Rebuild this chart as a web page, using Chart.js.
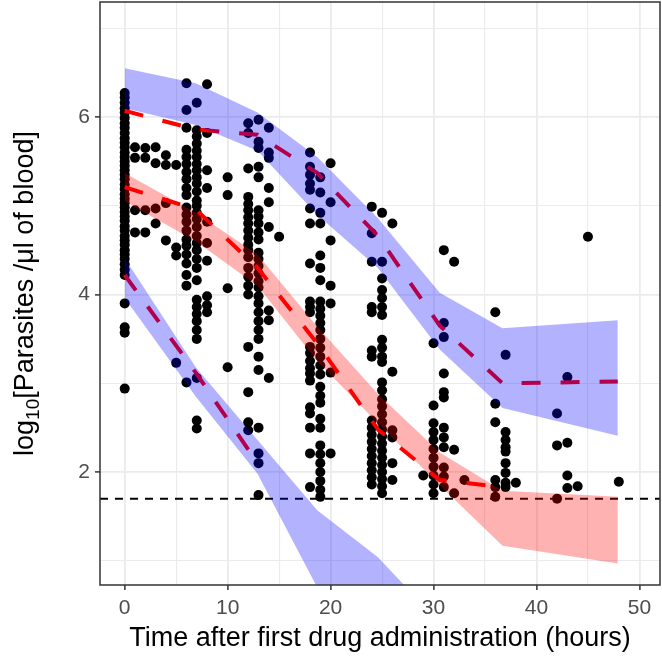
<!DOCTYPE html>
<html>
<head>
<meta charset="utf-8">
<title>VPC parasite clearance</title>
<script src="https://cdn.jsdelivr.net/npm/chart.js@4.4.1/dist/chart.umd.min.js"></script>
<style>
  html, body { margin: 0; padding: 0; background: #fff; overflow: hidden; }
  #wrap { width: 662px; height: 663px; position: relative; }
</style>
</head>
<body>
<div id="wrap"><canvas id="vpc"></canvas></div>
<script>
// observed samples: nominal sampling time (h) and the log10 counts seen at that time
const obsTimes = [0, 1, 2, 3, 4, 5, 6, 7, 8, 10, 12, 13, 14, 15, 18, 19, 20, 24, 25, 26,
  29, 30, 31, 32, 33, 36, 37, 38, 42, 43, 44, 45, 48];
const obsLevels = [
  [6.27, 6.22, 6.16, 6.1, 6.05, 5.99, 5.93, 5.88, 5.82, 5.76, 5.71, 5.66, 5.6, 5.55, 5.5, 5.45, 5.4, 5.35,
   5.3, 5.24, 5.19, 5.13, 5.08, 5.03, 4.98, 4.93, 4.88, 4.83, 4.77, 4.72, 4.66, 4.61, 4.56, 4.5, 4.45,
   4.4, 4.34, 4.28, 4.22, 3.9, 3.63, 3.57, 2.94],
  [5.66, 5.54, 4.95, 4.7],
  [5.65, 5.54, 4.95, 4.7],
  [5.66, 5.48, 4.97, 4.8],
  [5.57, 5.46, 5.03, 4.61],
  [5.46, 4.53, 4.44, 3.23],
  [6.38, 6.08, 5.88, 5.63, 5.55, 5.47, 5.38, 5.3, 5.2, 5.12, 4.98, 4.9, 4.82, 4.72, 4.62, 4.55, 4.45,
   4.35, 4.22, 4.1, 3.01],
  [6.16, 5.85, 5.78, 5.7, 5.62, 5.55, 5.47, 5.4, 5.32, 5.25, 5.16, 5.06, 5.0, 4.92, 4.85, 4.76, 4.66,
   4.58, 4.5, 4.4, 4.3, 4.16, 3.94, 3.86, 3.78, 3.7, 3.6, 3.5, 3.06, 2.58, 2.49],
  [6.37, 5.82, 5.4, 5.2, 4.82, 4.58, 4.38, 3.98, 3.88, 3.8],
  [5.32, 5.12, 4.07, 3.18],
  [5.93, 5.82, 5.42, 5.1, 5.02, 4.95, 4.87, 4.8, 4.72, 4.64, 4.56, 4.5, 4.42, 4.3, 4.2, 4.1, 4.0,
   3.41, 2.9, 2.56, 2.47],
  [5.97, 5.72, 5.65, 5.44, 5.32, 4.95, 4.88, 4.8, 4.7, 4.62, 4.47, 4.4, 4.32, 4.24, 4.15, 4.08, 3.98,
   3.9, 3.8, 3.7, 3.6, 3.5, 3.3, 3.15, 2.5, 2.21, 2.1, 1.74],
  [5.88, 5.6, 5.54, 5.2, 5.04, 4.76, 3.82, 3.71, 3.06],
  [4.65],
  [5.6, 5.44, 5.35, 5.25, 5.18, 4.97, 4.8, 4.35, 3.92, 3.86, 3.8, 3.41, 3.34, 3.25, 3.17, 3.11, 3.03,
   2.73, 2.66, 2.5, 2.21, 1.83],
  [5.32, 5.15, 4.92, 4.8, 4.44, 4.3, 4.16, 3.92, 3.84, 3.76, 3.68, 3.6, 3.5, 3.4, 3.3, 3.2, 3.1, 2.96,
   2.86, 2.78, 2.6, 2.5, 2.3, 2.2, 2.1, 2.0, 1.9, 1.8, 1.72],
  [5.48, 5.04, 4.61, 4.1, 3.9, 3.12, 2.21],
  [4.99, 4.69, 4.37, 3.86, 3.8, 3.37, 3.3, 2.58, 2.5, 2.42, 2.34, 2.26, 2.18, 2.1, 2.02, 1.94, 1.86],
  [4.92, 4.37, 4.18, 4.05, 3.96, 3.86, 3.77, 3.49, 3.4, 3.3, 3.24, 3.01, 2.92, 2.82, 2.74, 2.65, 2.56,
   2.48, 2.4, 2.32, 2.24, 2.16, 2.08, 2.0, 1.92, 1.84, 1.76],
  [4.8, 3.13, 2.47, 2.39, 2.1, 1.91],
  [1.96],
  [3.45, 2.75, 2.55, 2.45, 2.36, 2.26, 2.16, 2.06, 1.96, 1.86, 1.76],
  [4.5, 3.68, 3.52, 3.11, 2.9, 2.84, 2.5, 2.39, 2.28, 2.05, 1.95, 1.83],
  [4.37, 2.25, 1.76],
  [1.91],
  [3.8, 2.77, 2.56, 1.91, 1.83, 1.72],
  [3.32, 2.45, 2.36, 2.28, 2.23, 2.1, 1.99, 1.88, 1.83],
  [1.88],
  [2.66, 2.3, 1.7],
  [3.07, 2.33, 1.96, 1.82],
  [1.84],
  [4.65],
  [1.89]
];

// VPC bins (mid times) and percentile curves
const binTimes = [0, 6.9, 12.9, 18.7, 24.6, 30.6, 36.7, 47.9];
const hiBandTop = [6.55, 6.38, 6.05, 5.55, 4.86, 4.02, 3.62, 3.71];
const hiBandBottom = [6.1, 5.91, 5.62, 4.9, 4.3, 3.38, 2.72, 2.41];
const midBandTop = [5.37, 4.92, 4.45, 3.64, 2.88, 2.22, 1.79, 1.72];
const midBandBottom = [5.05, 4.6, 4.1, 3.25, 2.55, 1.85, 1.17, 0.97];
const loBandTop = [4.41, 3.18, 2.36, 1.57, 1.04, 0.3];
const loBandBottom = [3.96, 2.85, 1.98, 0.7, -0.2, -0.9];
const obsHigh = [6.07, 5.86, 5.8, 5.37, 4.66, 3.65, 3.0, 3.02];
const obsMedian = [5.21, 4.96, 4.3, 3.45, 2.48, 1.91, 1.83];
const obsLow = [4.22, 3.12, 2.1];
const lloq = 1.699;

const xMajor = [0, 10, 20, 30, 40, 50];
const xMinor = [5, 15, 25, 35, 45];
const yMajor = [2, 4, 6];
const yMinor = [1, 3, 5, 7];
const xRange = [-2.4, 52.0];
const yRange = [0.727, 7.296];

const FONT = "'Liberation Sans', Arial, sans-serif";
Chart.defaults.font.family = FONT;

const obsPoints = [];
obsTimes.forEach((t, i) => obsLevels[i].forEach(v => obsPoints.push({ x: t, y: v })));

const toXY = ys => ys.map((y, i) => ({ x: binTimes[i], y }));

function band(top, bottom, colour) {
  return [
    { data: toXY(top), showLine: true, pointRadius: 0, borderColor: 'transparent', borderWidth: 0,
      fill: '+1', backgroundColor: colour },
    { data: toXY(bottom), showLine: true, pointRadius: 0, borderColor: 'transparent', borderWidth: 0,
      fill: false }
  ];
}

function dashed(ys) {
  return { data: toXY(ys), showLine: true, pointRadius: 0, borderColor: '#ff0000', borderWidth: 4,
    borderDash: [19, 20], fill: false };
}

const isMajor = (list, v) => list.some(m => Math.abs(m - v) < 1e-9);

function gridFor(major) {
  return {
    color: '#ebebeb',
    lineWidth: c => (c.tick && isMajor(major, c.tick.value)) ? 1.8 : 1.1,
    drawTicks: true,
    tickLength: 5,
    tickWidth: 1.5,
    tickColor: c => (c.tick && isMajor(major, c.tick.value)) ? '#333333' : 'rgba(0,0,0,0)'
  };
}

// frame around the panel, like theme_bw
const panelFrame = {
  id: 'panelFrame',
  afterDatasetsDraw(chart) {
    const { ctx, chartArea: a } = chart;
    ctx.save();
    ctx.strokeStyle = '#333333';
    ctx.lineWidth = 1.5;
    ctx.strokeRect(a.left, a.top, a.right - a.left, a.bottom - a.top);
    ctx.restore();
  }
};

// rotated y title with a subscript "10"
const yTitle = {
  id: 'yTitle',
  afterDraw(chart) {
    const { ctx, chartArea: a } = chart;
    const big = '27px ' + FONT, small = '19px ' + FONT;
    const parts = [['log', big, 0], ['10', small, 6], ['[Parasites /\u03bcl of blood]', big, 0]];
    ctx.save();
    let total = 0;
    parts.forEach(p => { ctx.font = p[1]; total += ctx.measureText(p[0]).width; });
    ctx.translate(33, (a.top + a.bottom) / 2);
    ctx.rotate(-Math.PI / 2);
    ctx.fillStyle = '#000';
    ctx.textBaseline = 'alphabetic';
    ctx.textAlign = 'left';
    let x = -total / 2;
    parts.forEach(p => {
      ctx.font = p[1];
      ctx.fillText(p[0], x, p[2]);
      x += ctx.measureText(p[0]).width;
    });
    ctx.restore();
  }
};

new Chart(document.getElementById('vpc'), {
  type: 'scatter',
  data: {
    datasets: [
      ...band(hiBandTop, hiBandBottom, 'rgba(0,0,255,0.3)'),
      ...band(midBandTop, midBandBottom, 'rgba(255,0,0,0.3)'),
      ...band(loBandTop, loBandBottom, 'rgba(0,0,255,0.3)'),
      dashed(obsHigh),
      dashed(obsMedian),
      dashed(obsLow),
      { data: [{ x: xRange[0], y: lloq }, { x: xRange[1], y: lloq }], showLine: true, pointRadius: 0,
        borderColor: '#000', borderWidth: 2, borderDash: [8, 7], fill: false },
      { data: obsPoints, backgroundColor: '#000', borderWidth: 0, pointRadius: 5, pointHoverRadius: 5 }
    ]
  },
  options: {
    responsive: true,
    maintainAspectRatio: false,
    animation: false,
    events: [],
    layout: { autoPadding: false, padding: { top: 2, right: 2, left: 0, bottom: 0 } },
    plugins: { legend: { display: false }, tooltip: { enabled: false } },
    scales: {
      x: {
        type: 'linear',
        min: xRange[0],
        max: xRange[1],
        afterBuildTicks: s => { s.ticks = xMajor.concat(xMinor).sort((p, q) => p - q).map(v => ({ value: v })); },
        afterFit: s => { s.height = 78; s.paddingLeft = 0; s.paddingRight = 0; },
        border: { display: false },
        grid: gridFor(xMajor),
        ticks: {
          autoSkip: false, maxRotation: 0, padding: 6,
          color: '#4d4d4d', font: { size: 21 },
          callback: v => isMajor(xMajor, v) ? String(v) : ''
        },
        title: {
          display: true,
          text: 'Time after first drug administration (hours)',
          color: '#000', font: { size: 27 },
          padding: { top: 0, bottom: 8 }
        }
      },
      y: {
        type: 'linear',
        min: yRange[0],
        max: yRange[1],
        afterBuildTicks: s => { s.ticks = yMajor.concat(yMinor).sort((p, q) => p - q).map(v => ({ value: v })); },
        afterFit: s => { s.width = 100; s.paddingTop = 0; s.paddingBottom = 0; },
        border: { display: false },
        grid: gridFor(yMajor),
        ticks: {
          autoSkip: false, padding: 5,
          color: '#4d4d4d', font: { size: 21 },
          callback: v => isMajor(yMajor, v) ? String(v) : ''
        }
      }
    }
  },
  plugins: [panelFrame, yTitle]
});
</script>
</body>
</html>
